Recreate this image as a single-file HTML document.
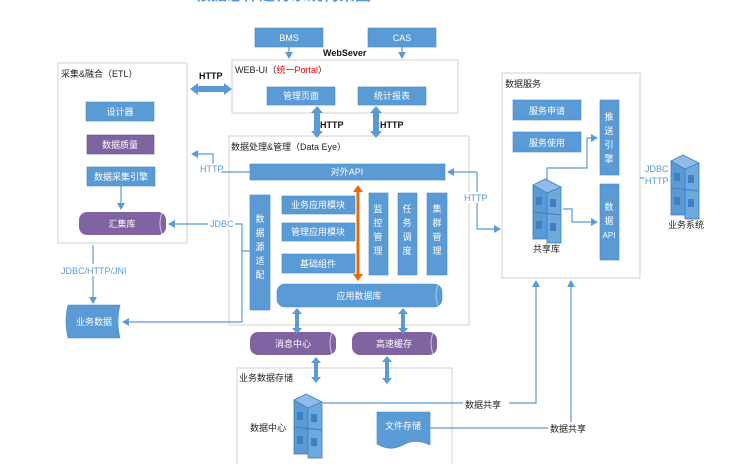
<!DOCTYPE html>
<html><head><meta charset="utf-8"><style>
body{margin:0;width:736px;height:464px;overflow:hidden;background:#fff;font-family:"Liberation Sans","Noto Sans CJK SC",sans-serif}
svg text{font-family:"Liberation Sans","Noto Sans CJK SC",sans-serif}
</style></head><body>
<svg width="736" height="464" viewBox="0 0 736 464" xmlns="http://www.w3.org/2000/svg">
<defs>
<marker id="a" markerWidth="8" markerHeight="8" refX="6" refY="4" orient="auto" markerUnits="userSpaceOnUse"><path d="M0,0 L7,4 L0,8 Z" fill="#5b9bd5"/></marker>
<g id="srv">
<rect x="0" y="6" width="14" height="54" fill="#5b9bd5" stroke="#3d7fc0" stroke-width="0.8"/>
<rect x="14" y="8" width="14" height="56" fill="#6fa8dc" stroke="#3d7fc0" stroke-width="0.8"/>
<path d="M0,6 L12,0 L28,8 L14,14 Z" fill="#8fbbe6" stroke="#3d7fc0" stroke-width="0.8"/>
<path d="M0,33 L28,36" stroke="#3d7fc0" stroke-width="1"/>
<rect x="3" y="18" width="6" height="8" fill="#3d7fc0"/><rect x="17" y="20" width="6" height="8" fill="#3d7fc0"/>
<rect x="3" y="42" width="6" height="8" fill="#3d7fc0"/><rect x="17" y="44" width="6" height="8" fill="#3d7fc0"/>
</g>
</defs>
<text x="195" y="0" font-size="16" fill="#5b9bd5" font-weight="bold">根据总体运行系统构架图</text>
<g fill="none" stroke="#d9d9d9" stroke-width="1.2">
<rect x="58" y="63" width="129" height="180"/>
<rect x="232" y="60" width="226" height="53"/>
<rect x="229" y="136" width="240" height="189"/>
<rect x="502" y="73" width="138" height="205"/>
<rect x="237" y="368" width="215" height="110"/>
</g>
<g font-size="9" fill="#222">
<text x="61" y="77">采集&amp;融合（ETL）</text>
<text x="235" y="73">WEB-UI（<tspan fill="#e00">统一Portal</tspan>）</text>
<text x="231" y="150">数据处理&amp;管理（Data Eye）</text>
<text x="505" y="87">数据服务</text>
<text x="239" y="381">业务数据存储</text>
<text x="250" y="431">数据中心</text>
<text x="533" y="252">共享库</text>
<text x="668" y="228">业务系统</text>
</g>
<g font-size="9" font-weight="bold" fill="#111">
<text x="323" y="56">WebSever</text>
<text x="199" y="79">HTTP</text>
<text x="320" y="128">HTTP</text>
<text x="380" y="128">HTTP</text>
</g>
<g fill="#5b9bd5" stroke="#4a89c5" stroke-width="0.6">
<rect x="255" y="28" width="68" height="19"/>
<rect x="368" y="28" width="68" height="19"/>
<rect x="267" y="87" width="68" height="18"/>
<rect x="358" y="87" width="68" height="18"/>
<rect x="86" y="102" width="68" height="19"/>
<rect x="87" y="167" width="68" height="19"/>
<rect x="250" y="164" width="195" height="16"/>
<rect x="250" y="195" width="20" height="115"/>
<rect x="282" y="196" width="73" height="18"/>
<rect x="282" y="223" width="73" height="18"/>
<rect x="282" y="254" width="73" height="19"/>
<rect x="369" y="193" width="19" height="82"/>
<rect x="398" y="193" width="19" height="82"/>
<rect x="427" y="193" width="20" height="82"/>
<rect x="513" y="100" width="68" height="20"/>
<rect x="513" y="132" width="68" height="20"/>
<rect x="600" y="100" width="19" height="75"/>
<rect x="600" y="184" width="19" height="76"/>
<rect x="277" y="284" width="165" height="23" rx="8"/>
<path d="M68,305 H120 Q116,321 120,338 H68 Q64,321 68,305 Z"/>
<path d="M377,412 H430 V445 Q415,438 403,445 Q390,452 377,444 Z"/>
</g>
<rect x="87" y="135" width="67" height="19" fill="#8064a2" stroke="#6a4f8c" stroke-width="0.6"/>
<rect x="79" y="212" width="87" height="23" rx="8" fill="#8064a2"/>
<rect x="250" y="332" width="86" height="23" rx="8" fill="#8064a2"/>
<rect x="352" y="332" width="85" height="23" rx="8" fill="#8064a2"/>
<g fill="none" stroke="#cfc6e0" stroke-width="1"><path d="M162,213 Q158,223 162,234"/><path d="M332,333 Q328,343 332,354"/><path d="M433,333 Q429,343 433,354"/></g>
<path d="M438,285 Q434,295 438,306" fill="none" stroke="#a9c8ea"/>
<g font-size="9" fill="#fff" text-anchor="middle">
<text x="289" y="41">BMS</text><text x="402" y="41">CAS</text>
<text x="301" y="99">管理页面</text><text x="392" y="99">统计报表</text>
<text x="120" y="115">设计器</text><text x="120" y="148">数据质量</text><text x="121" y="180">数据采集引擎</text>
<text x="122" y="227">汇集库</text>
<text x="347" y="175">对外API</text>
<text x="318" y="208">业务应用模块</text><text x="318" y="235">管理应用模块</text><text x="318" y="267">基础组件</text>
<text x="359" y="299">应用数据库</text>
<text x="293" y="347">消息中心</text><text x="394" y="347">高速缓存</text>
<text x="547" y="114">服务申请</text><text x="547" y="146">服务使用</text>
<text x="94" y="325">业务数据</text>
<text x="403" y="429">文件存储</text>
</g>
<g font-size="9" fill="#fff" text-anchor="middle">
<text x="260" y="222">数</text><text x="260" y="236">据</text><text x="260" y="250">源</text><text x="260" y="264">适</text><text x="260" y="278">配</text>
<text x="378" y="212">监</text><text x="378" y="226">控</text><text x="378" y="240">管</text><text x="378" y="254">理</text>
<text x="407" y="212">任</text><text x="407" y="226">务</text><text x="407" y="240">调</text><text x="407" y="254">度</text>
<text x="437" y="212">集</text><text x="437" y="226">群</text><text x="437" y="240">管</text><text x="437" y="254">理</text>
<text x="609" y="120">推</text><text x="609" y="134">送</text><text x="609" y="148">引</text><text x="609" y="162">擎</text>
<text x="609" y="210">数</text><text x="609" y="224">据</text><text x="609" y="238" font-size="8">API</text>
</g>
<g fill="none" stroke="#5b9bd5" stroke-width="1.2">
<path d="M289,47 V58" marker-end="url(#a)"/>
<path d="M402,47 V58" marker-end="url(#a)"/>
<path d="M121,186 V209" marker-end="url(#a)"/>
<path d="M250,172 H213 V154 H192" marker-end="url(#a)"/>
<path d="M250,251 H242 V224 H169" marker-end="url(#a)"/>
<path d="M242,251 V322 H123" marker-end="url(#a)"/>
<path d="M93,245 V303" marker-end="url(#a)"/>
<path d="M477,172 H448" marker-end="url(#a)"/>
<path d="M477,172 V229 H500" marker-end="url(#a)"/>
<path d="M323,403 H536 V281" marker-end="url(#a)"/>
<path d="M430,428 H571 V281" marker-end="url(#a)"/>
<path d="M547,182 V168 H587 V138 H597" marker-end="url(#a)"/>
<path d="M563,209 H572 V222 H597" marker-end="url(#a)"/>
<path d="M640,178 H666" marker-end="url(#a)"/>
</g>
<g font-size="9" fill="#5b9bd5">
<text x="200" y="172" fill="#fff" stroke="#fff" stroke-width="4">HTTP</text><text x="200" y="172">HTTP</text>
<rect x="208" y="218" width="27" height="11" fill="#fff"/><text x="210" y="227">JDBC</text>
<rect x="60" y="264" width="66" height="12" fill="#fff"/><text x="61" y="274">JDBC/HTTP/JNI</text>
<rect x="463" y="192" width="26" height="11" fill="#fff"/><text x="464" y="201">HTTP</text>
<rect x="644" y="163" width="22" height="24" fill="#fff"/><text x="645" y="172">JDBC</text><text x="645" y="184">HTTP</text>
</g>
<rect x="463" y="398" width="46" height="12" fill="#fff"/><text x="465" y="408" font-size="9" fill="#222">数据共享</text>
<rect x="548" y="422" width="46" height="12" fill="#fff"/><text x="550" y="432" font-size="9" fill="#222">数据共享</text>
<g fill="#5b9bd5">
<path d="M190,89 l8,-6 v3 h26 v-3 l8,6 l-8,6 v-3 h-26 v3 z"/>
<path d="M317,106 l-6,7 h3 v18 h-3 l6,7 l6,-7 h-3 v-18 h3 z"/>
<path d="M376,106 l-6,7 h3 v18 h-3 l6,7 l6,-7 h-3 v-18 h3 z"/>
<path d="M297,308 l-5,6 h3 v14 h-3 l5,6 l5,-6 h-3 v-14 h3 z"/>
<path d="M403,308 l-5,6 h3 v14 h-3 l5,6 l5,-6 h-3 v-14 h3 z"/>
<path d="M316,357 l-5,6 h3 v14 h-3 l5,6 l5,-6 h-3 v-14 h3 z"/>
<path d="M387,356 l-5,6 h3 v16 h-3 l5,6 l5,-6 h-3 v-16 h3 z"/>
</g>
<path d="M358,185 l-5,7 h3.5 v82 h-3.5 l5,7 l5,-7 h-3.5 v-82 h3.5 z" fill="#e46c0a"/>
<use href="#srv" x="294" y="394"/>
<use href="#srv" x="533" y="179"/>
<use href="#srv" x="671" y="155"/>
</svg>
</body></html>
